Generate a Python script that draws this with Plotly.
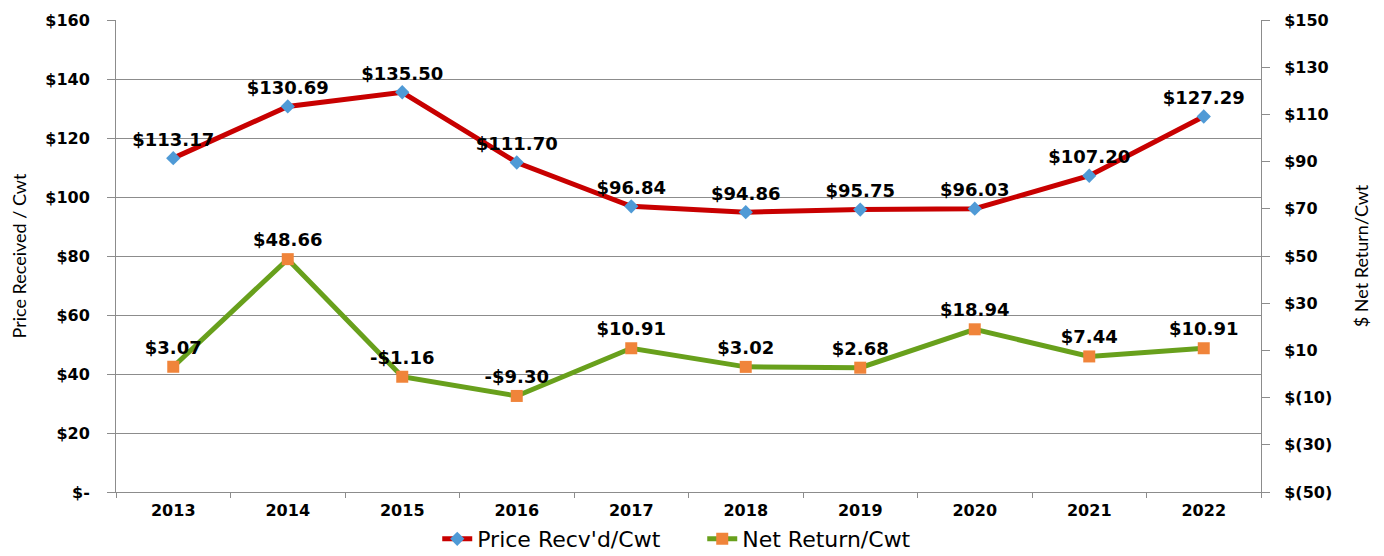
import plotly.graph_objects as go

# Chart data
years = ["2013", "2014", "2015", "2016", "2017", "2018", "2019", "2020", "2021", "2022"]
price = [113.17, 130.69, 135.50, 111.70, 96.84, 94.86, 95.75, 96.03, 107.20, 127.29]
net_return = [3.07, 48.66, -1.16, -9.30, 10.91, 3.02, 2.68, 18.94, 7.44, 10.91]

# Axis ticks
left_ticks = [0, 20, 40, 60, 80, 100, 120, 140, 160]
left_labels = ["$-", "$20", "$40", "$60", "$80", "$100", "$120", "$140", "$160"]
right_ticks = [-50, -30, -10, 10, 30, 50, 70, 90, 110, 130, 150]
right_labels = ["$(50)", "$(30)", "$(10)", "$10", "$30", "$50", "$70",
                "$90", "$110", "$130", "$150"]


def money(v):
    return f"-${abs(v):.2f}" if v < 0 else f"${v:.2f}"


label_font = dict(family="DejaVu Sans", size=18, color="black", weight="bold")
tick_font = dict(family="DejaVu Sans", size=16, color="black", weight="bold")
title_font = dict(family="Lato", size=18, color="black")

fig = go.Figure()

fig.add_trace(go.Scatter(
    x=years, y=price, name="Price Recv'd/Cwt",
    mode="lines+markers+text",
    line=dict(color="#C80000", width=5),
    marker=dict(symbol="diamond", size=11, color="#4F9AD6"),
    text=[money(v) for v in price], textposition="top center",
    textfont=label_font,
))

fig.add_trace(go.Scatter(
    x=years, y=net_return, name="Net Return/Cwt", yaxis="y2",
    mode="lines+markers+text",
    line=dict(color="#68A01C", width=5),
    marker=dict(symbol="square", size=12, color="#F0843A"),
    text=[money(v) for v in net_return], textposition="top center",
    textfont=label_font,
))

# the page body adds an 8px offset, so margins are shifted to compensate
fig.update_layout(
    width=1384, height=556,
    margin=dict(l=108, r=131, t=12, b=72),
    paper_bgcolor="white", plot_bgcolor="white",
    showlegend=True,
    legend=dict(orientation="h", x=0.512, xanchor="center",
                yref="container", y=0.045, yanchor="middle",
                entrywidth=220,
                font=dict(family="DejaVu Sans", size=22, color="black")),
    xaxis=dict(
        type="category", range=[-0.5, 9.5], automargin=False,
        showline=True, linecolor="#8C8C8C", linewidth=1,
        ticks="outside", tickson="boundaries", ticklen=5, tickcolor="#8C8C8C",
        tickfont=tick_font, showgrid=False, ticklabelstandoff=4,
    ),
    yaxis=dict(
        range=[0, 160], tickvals=left_ticks, ticktext=left_labels,
        automargin=False,
        showline=True, linecolor="#8C8C8C", linewidth=1,
        ticks="outside", ticklen=8, tickcolor="#8C8C8C",
        gridcolor="#8C8C8C", gridwidth=1, zeroline=False,
        tickfont=tick_font, ticklabelstandoff=14,
        title=dict(text="Price Received / Cwt", standoff=14, font=title_font),
    ),
    yaxis2=dict(
        range=[-50, 150], tickvals=right_ticks, ticktext=right_labels,
        overlaying="y", side="right", automargin=False,
        showline=True, linecolor="#8C8C8C", linewidth=1,
        ticks="outside", ticklen=8, tickcolor="#8C8C8C",
        showgrid=False, zeroline=False,
        tickfont=tick_font, ticklabelstandoff=11,
        title=dict(text="$ Net Return/Cwt", standoff=24, font=title_font),
    ),
)

fig.write_html("out.html")
